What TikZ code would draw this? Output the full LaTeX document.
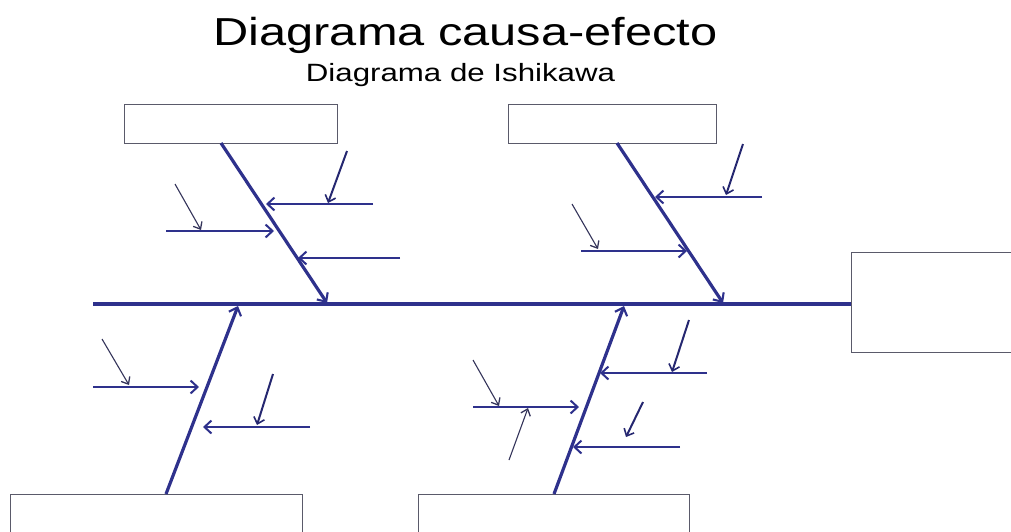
\documentclass[tikz,border=0pt]{standalone}
\usepackage{fontspec}
\setmainfont{Liberation Sans}
\usetikzlibrary{arrows.meta}
\definecolor{fishblue}{HTML}{2E318C}
\definecolor{thinarrow}{HTML}{34345A}
\definecolor{boxgray}{HTML}{5A5A6A}
\begin{document}
\begin{tikzpicture}[x=1pt,y=-1pt,
  box/.style={draw=boxgray,line width=1.4pt,fill=white,inner sep=0pt,anchor=north west},
  spine/.style={draw=fishblue,line width=3.4pt},
  bone/.style={draw=fishblue,line width=3.2pt,-{Straight Barb[length=7pt,width=13pt,line width=2.1pt]}},
  cause/.style={draw=fishblue,line width=2.8pt,-{Straight Barb[length=7pt,width=13pt,line width=2pt]}},
  subcause/.style={draw=fishblue!80!black,line width=2pt,-{Straight Barb[length=6pt,width=11pt,line width=1.6pt]}},
  minor/.style={draw=thinarrow,line width=1.1pt,-{Straight Barb[length=6pt,width=10pt,line width=1.3pt]}},
  titlestyle/.style={anchor=base,inner sep=0pt,font=\fontsize{39}{39}\selectfont},
  subtitlestyle/.style={anchor=base,inner sep=0pt,font=\fontsize{25}{25}\selectfont}]
\clip (0,0) rectangle (1011,531);

% titles
\node[titlestyle] (title) at (465.5,45) {\scalebox{1.25}[1]{Diagrama causa-efecto}};
\node[subtitlestyle] (subtitle) at (460.5,81) {\scalebox{1.25}[1]{Diagrama de Ishikawa}};

% boxes
\node[box,minimum width=213pt,minimum height=39pt] (box1) at (124,104) {};
\node[box,minimum width=208pt,minimum height=39pt] (box2) at (508,104) {};
\node[box,minimum width=170pt,minimum height=100pt] (effect) at (851,252) {};
\node[box,minimum width=292pt,minimum height=50pt] (box3) at (10,494) {};
\node[box,minimum width=271pt,minimum height=50pt] (box4) at (418,494) {};

% spine
\coordinate (spineL) at (93,304);
\draw[spine] (spineL) -- (spineL -| effect.west);

% branch coordinates
\coordinate (b1a) at (221,143); \coordinate (b1b) at (327,303);
\coordinate (b2a) at (617,143); \coordinate (b2b) at (723,303);
\coordinate (b3a) at (166,494); \coordinate (b3b) at (238,306);
\coordinate (b4a) at (554,494); \coordinate (b4b) at (624,306);
\draw[bone] (b1a) -- (b1b);
\draw[bone] (b2a) -- (b2b);
\draw[bone] (b3a) -- (b3b);
\draw[bone] (b4a) -- (b4b);

% branch 1 causes
\coordinate (c11s) at (373,204); \coordinate (c11e) at (266,204);
\coordinate (c12s) at (166,231); \coordinate (c12e) at (274,231);
\coordinate (c13s) at (400,258); \coordinate (c13e) at (298,258);
\coordinate (s11s) at (347,151); \coordinate (s11e) at (328,203);
\coordinate (t11s) at (175,184); \coordinate (t11e) at (201,230);
\draw[cause] (c11s) -- (c11e);
\draw[cause] (c12s) -- (c12e);
\draw[cause] (c13s) -- (c13e);
\draw[subcause] (s11s) -- (s11e);
\draw[minor] (t11s) -- (t11e);

% branch 2 causes
\coordinate (c21s) at (762,197); \coordinate (c21e) at (655,197);
\coordinate (c22s) at (581,251); \coordinate (c22e) at (687,251);
\coordinate (s21s) at (743,144); \coordinate (s21e) at (726,195);
\coordinate (t21s) at (572,204); \coordinate (t21e) at (598,249);
\draw[cause] (c21s) -- (c21e);
\draw[cause] (c22s) -- (c22e);
\draw[subcause] (s21s) -- (s21e);
\draw[minor] (t21s) -- (t21e);

% branch 3 causes
\coordinate (c31s) at (93,387); \coordinate (c31e) at (199,387);
\coordinate (c32s) at (310,427); \coordinate (c32e) at (203,427);
\coordinate (s31s) at (273,374); \coordinate (s31e) at (257,425);
\coordinate (t31s) at (102,339); \coordinate (t31e) at (129,385);
\draw[cause] (c31s) -- (c31e);
\draw[cause] (c32s) -- (c32e);
\draw[subcause] (s31s) -- (s31e);
\draw[minor] (t31s) -- (t31e);

% branch 4 causes
\coordinate (c41s) at (707,373); \coordinate (c41e) at (600,373);
\coordinate (c42s) at (473,407); \coordinate (c42e) at (579,407);
\coordinate (c43s) at (680,447); \coordinate (c43e) at (573,447);
\coordinate (s41s) at (689,320); \coordinate (s41e) at (672,372);
\coordinate (s42s) at (643,402); \coordinate (s42e) at (626,437);
\coordinate (t41s) at (473,360); \coordinate (t41e) at (499,406);
\coordinate (t42s) at (509,460); \coordinate (t42e) at (528,408);
\draw[cause] (c41s) -- (c41e);
\draw[cause] (c42s) -- (c42e);
\draw[cause] (c43s) -- (c43e);
\draw[subcause] (s41s) -- (s41e);
\draw[subcause] (s42s) -- (s42e);
\draw[minor] (t41s) -- (t41e);
\draw[minor] (t42s) -- (t42e);
\end{tikzpicture}
\end{document}
